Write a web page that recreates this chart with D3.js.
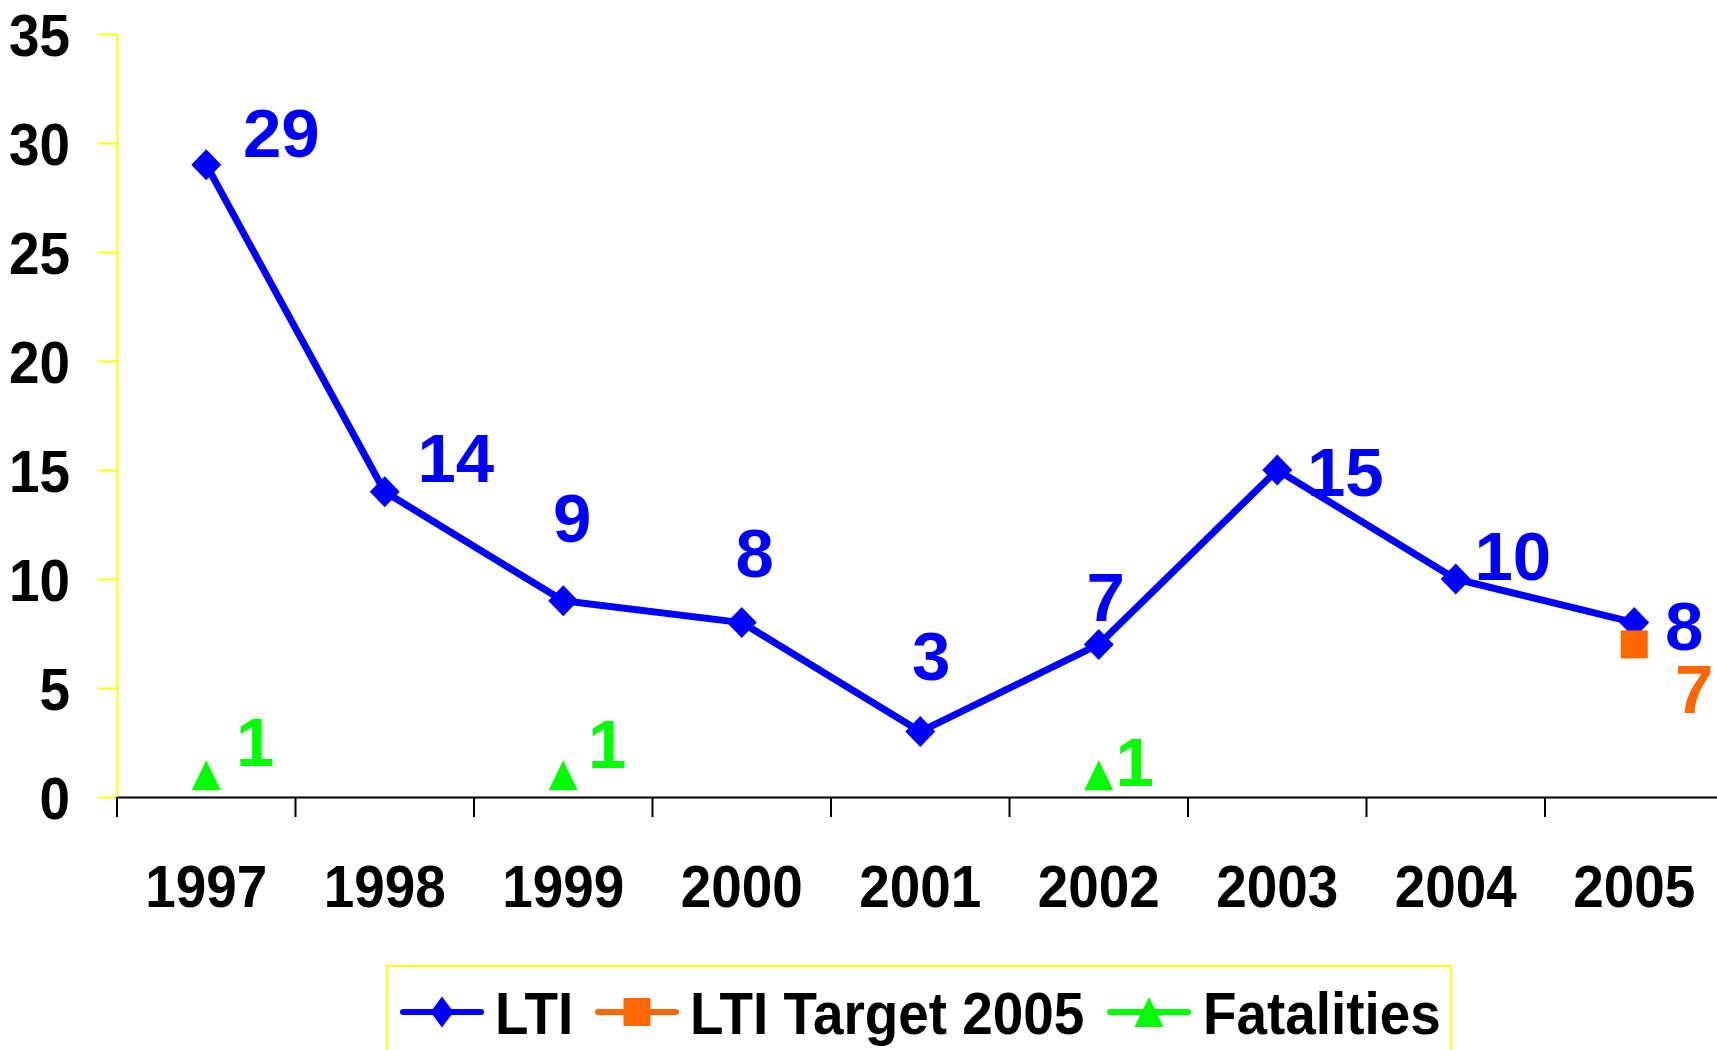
<!DOCTYPE html>
<html>
<head>
<meta charset="utf-8">
<script src="https://cdn.jsdelivr.net/npm/d3@7"></script>
<style>
    body { margin: 0; background: #fff; }
    svg { display: block; }
    text { font-family: "Liberation Sans", Arial, sans-serif; font-weight: bold; }
</style>
</head>
<body>
<div id="chart"></div>
<script>
// chart data
const years = ["1997", "1998", "1999", "2000", "2001", "2002", "2003", "2004", "2005"];
const lti = [29, 14, 9, 8, 3, 7, 15, 10, 8];
const targetYears = ["2005"];
const targetValues = [7];
const fatalYears = ["1997", "1999", "2002"];
const fatalValues = [1, 1, 1];
const yTicks = [0, 5, 10, 15, 20, 25, 30, 35];
const legendNames = ["LTI", "LTI Target 2005", "Fatalities"];

// where each value label sits relative to its point (centre x, baseline y)
const ltiLabelShift = [[75, -8], [71, -10], [9, -59], [13, -46], [11, -52], [7, -23], [68, 26], [57, 1], [50, 27]];
const targetLabelShift = [[60, 69]];
const fatalLabelShift = [[49, -9], [44, -7], [36, 11]];

const blue = "#0000ff", orange = "#ff6600", green = "#00ff00", yellow = "#ffff00";
const squeeze = 0.93;   // text in the original is a touch condensed

let width = 1717, height = 1050;

let svg = d3.select("#chart").append("svg")
    .attr("width", width)
    .attr("height", height);

svg.append("rect").attr("width", width).attr("height", height).attr("fill", "#fff");

// scales
let x = d3.scaleBand().domain(years).range([117, 117 + 178.5 * years.length]);
let y = d3.scaleLinear().domain([0, 35]).range([797, 34]);
let cx = d => x(d) + x.bandwidth() / 2;

// y axis (yellow)
let yAxis = svg.append("g")
    .attr("transform", "translate(117,0)")
    .call(d3.axisLeft(y).tickValues(yTicks).tickSize(19).tickSizeOuter(0).tickPadding(28));
yAxis.select(".domain").attr("stroke", yellow).attr("stroke-width", 2);
yAxis.selectAll(".tick line").attr("stroke", yellow).attr("stroke-width", 2);
yAxis.selectAll(".tick text")
    .attr("fill", "#000")
    .attr("font-size", 59)
    .attr("dy", "0.36em")
    .attr("x", -47 / squeeze)
    .attr("transform", `scale(${squeeze},1)`);

// x axis (black) - labels at centres, ticks at category boundaries
let xAxis = svg.append("g")
    .attr("transform", "translate(0,797)")
    .call(d3.axisBottom(x).tickSize(0).tickPadding(68).tickSizeOuter(0));
xAxis.select(".domain").attr("stroke", "#000").attr("stroke-width", 2);
xAxis.selectAll(".tick text")
    .attr("fill", "#000")
    .attr("font-size", 59)
    .attr("x", 0)
    .attr("transform", `scale(${squeeze},1)`);

xAxis.selectAll(".boundary")
    .data(years)
    .enter()
    .append("line")
    .attr("class", "boundary")
    .attr("x1", d => x(d)).attr("x2", d => x(d))
    .attr("y1", 0).attr("y2", 20)
    .attr("stroke", "#000")
    .attr("stroke-width", 2);

// marker shapes
const diamond = "M0,-15.5L15,0L0,15.5L-15,0Z";
const square = "M-13.5,-14L13.5,-14L13.5,14L-13.5,14Z";
const triangle = "M0,-15L14.5,15L-14.5,15Z";

// LTI line
let line = d3.line()
    .x((d, i) => cx(years[i]))
    .y(d => y(d));

svg.append("path")
    .datum(lti)
    .attr("d", line)
    .attr("fill", "none")
    .attr("stroke", blue)
    .attr("stroke-width", 7)
    .attr("stroke-linejoin", "round");

svg.selectAll(".lti-pt")
    .data(lti)
    .enter()
    .append("path")
    .attr("class", "lti-pt")
    .attr("d", diamond)
    .attr("transform", (d, i) => `translate(${cx(years[i])},${y(d)})`)
    .attr("fill", blue);

svg.selectAll(".lti-lbl")
    .data(lti)
    .enter()
    .append("text")
    .attr("class", "lti-lbl")
    .attr("x", (d, i) => cx(years[i]) + ltiLabelShift[i][0])
    .attr("y", (d, i) => y(d) + ltiLabelShift[i][1])
    .attr("text-anchor", "middle")
    .attr("font-size", 69)
    .attr("fill", blue)
    .text(d => d);

// target
svg.selectAll(".tgt-pt")
    .data(targetValues)
    .enter()
    .append("path")
    .attr("class", "tgt-pt")
    .attr("d", square)
    .attr("transform", (d, i) => `translate(${cx(targetYears[i])},${y(d)})`)
    .attr("fill", orange);

svg.selectAll(".tgt-lbl")
    .data(targetValues)
    .enter()
    .append("text")
    .attr("class", "tgt-lbl")
    .attr("x", (d, i) => cx(targetYears[i]) + targetLabelShift[i][0])
    .attr("y", (d, i) => y(d) + targetLabelShift[i][1])
    .attr("text-anchor", "middle")
    .attr("font-size", 69)
    .attr("fill", orange)
    .text(d => d);

// fatalities
svg.selectAll(".fat-pt")
    .data(fatalValues)
    .enter()
    .append("path")
    .attr("class", "fat-pt")
    .attr("d", triangle)
    .attr("transform", (d, i) => `translate(${cx(fatalYears[i])},${y(d)})`)
    .attr("fill", green);

svg.selectAll(".fat-lbl")
    .data(fatalValues)
    .enter()
    .append("text")
    .attr("class", "fat-lbl")
    .attr("x", (d, i) => cx(fatalYears[i]) + fatalLabelShift[i][0])
    .attr("y", (d, i) => y(d) + fatalLabelShift[i][1])
    .attr("text-anchor", "middle")
    .attr("font-size", 69)
    .attr("fill", green)
    .text(d => d);

// legend
let legend = svg.append("g");
legend.append("rect")
    .attr("x", 387).attr("y", 966)
    .attr("width", 1064).attr("height", 120)
    .attr("fill", "#fff")
    .attr("stroke", yellow)
    .attr("stroke-width", 2);

const legendItems = [
    {name: legendNames[0], color: blue, shape: "M0,-15.5L11.5,0L0,15.5L-11.5,0Z", x0: 403, tx: 495},
    {name: legendNames[1], color: orange, shape: square, x0: 598, tx: 690},
    {name: legendNames[2], color: green, shape: triangle, x0: 1110, tx: 1203}
];

legendItems.forEach(function(it) {
    legend.append("line")
        .attr("x1", it.x0).attr("x2", it.x0 + 78)
        .attr("y1", 1012).attr("y2", 1012)
        .attr("stroke", it.color)
        .attr("stroke-width", 6)
        .attr("stroke-linecap", "round");
    legend.append("path")
        .attr("d", it.shape)
        .attr("transform", `translate(${it.x0 + 39},1012)`)
        .attr("fill", it.color);
    legend.append("g")
        .attr("transform", `translate(${it.tx},1034) scale(${squeeze},1)`)
        .append("text")
        .attr("font-size", 59)
        .attr("fill", "#000")
        .text(it.name);
});
</script>
</body>
</html>
